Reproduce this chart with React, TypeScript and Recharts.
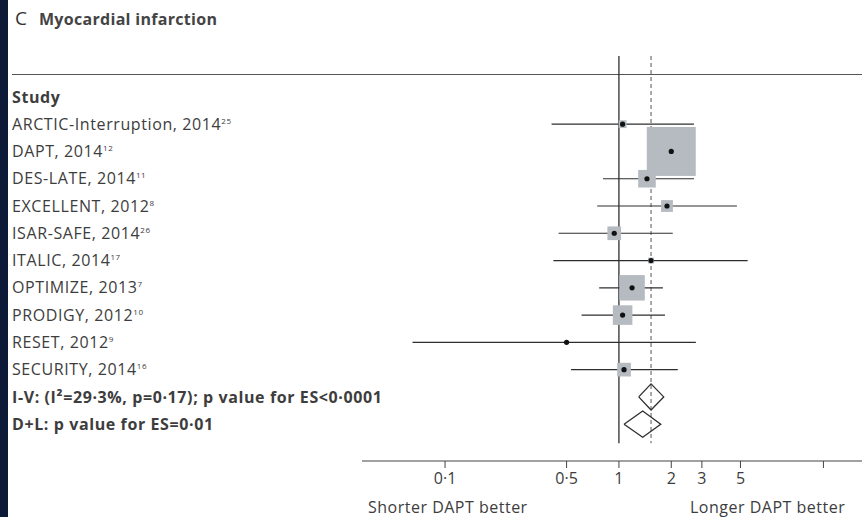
import { ScatterChart, Scatter, XAxis, YAxis, ReferenceLine, ErrorBar } from "recharts";

// Forest plot: myocardial infarction, longer vs shorter DAPT
const studies = [
  "ARCTIC-Interruption, 2014",
  "DAPT, 2014",
  "DES-LATE, 2014",
  "EXCELLENT, 2012",
  "ISAR-SAFE, 2014",
  "ITALIC, 2014",
  "OPTIMIZE, 2013",
  "PRODIGY, 2012",
  "RESET, 2012",
  "SECURITY, 2014",
];
const refs = ["25", "12", "11", "8", "26", "17", "7", "10", "9", "16"];
const estimates = [1.05, 2.0, 1.45, 1.89, 0.94, 1.53, 1.19, 1.05, 0.5, 1.07];
const lower = [0.41, 1.57, 0.81, 0.75, 0.45, 0.42, 0.77, 0.61, 0.065, 0.53];
const upper = [2.7, 2.49, 2.7, 4.77, 2.04, 5.5, 1.79, 1.84, 2.77, 2.18];
const weights = [1.4, 55.0, 7.1, 3.2, 4.3, 0.8, 14.9, 8.8, 0.2, 4.3];

const pooledLabels = [
  "I-V: (I²=29·3%, p=0·17); p value for ES<0·0001",
  "D+L: p value for ES=0·01",
];
const pooledLower = [1.3, 1.07];
const pooledEst = [1.53, 1.37];
const pooledUpper = [1.81, 1.74];

const xTicks = [0.1, 0.5, 1, 2, 3, 5, 15];
const xTickLabels = ["0·1", "0·5", "1", "2", "3", "5", ""];

const TEXT = "#3d3d3d";
const LINE = "#2e2e2e";
const BOX_SCALE = 6.6;
const DIAMOND_H = 0.48;

const studyData = studies.map((s, i) => ({
  x: estimates[i],
  y: i,
  w: weights[i],
  err: [estimates[i] - lower[i], upper[i] - estimates[i]],
}));

const diamonds = pooledEst.map((est, k) => {
  const y = studies.length + k;
  return [
    { x: pooledLower[k], y },
    { x: est, y: y - DIAMOND_H },
    { x: pooledUpper[k], y },
    { x: est, y: y + DIAMOND_H },
    { x: pooledLower[k], y },
  ];
});

const rowTicks = [-1, ...studies.map((_, i) => i), ...pooledLabels.map((_, k) => studies.length + k)];

function RowLabel(props: any) {
  const { y, payload } = props;
  const i = payload.value;
  const common = {
    x: 12,
    y,
    dy: "0.35em",
    fill: TEXT,
    fontSize: 16,
    letterSpacing: 0.6,
    textAnchor: "start" as const,
  };
  if (i === -1) {
    return <text {...common} fontWeight={700}>Study</text>;
  }
  if (i >= studies.length) {
    return <text {...common} fontWeight={700}>{pooledLabels[i - studies.length]}</text>;
  }
  return (
    <text {...common}>
      <tspan>{studies[i]}</tspan>
      <tspan dy={-6} fontSize={8}>{refs[i]}</tspan>
    </text>
  );
}

const BoxShape = (p: any) => {
  const s = BOX_SCALE * Math.sqrt(p.payload.w);
  return <rect x={p.cx - s / 2} y={p.cy - s / 2} width={s} height={s} fill="#b5bbc1" />;
};

const DotShape = (p: any) => <circle cx={p.cx} cy={p.cy} r={2.6} fill="#111" />;

const NoShape = () => <g />;

export default function App() {
  return (
    <div
      style={{
        position: "absolute",
        left: 0,
        top: 0,
        width: 862,
        height: 517,
        background: "#fff",
        fontFamily: "'Open Sans', sans-serif",
        overflow: "hidden",
      }}
    >
      {/* dark page edge */}
      <div style={{ position: "absolute", left: 0, top: 0, width: 8, height: 517, background: "#0c1a38" }} />

      <div style={{ position: "absolute", left: 15, top: 5, color: "#333", display: "flex", alignItems: "baseline", gap: 12 }}>
        <span style={{ fontSize: 19 }}>C</span>
        <span style={{ fontSize: 16, letterSpacing: 0.3, fontWeight: 700, color: "#444" }}>Myocardial infarction</span>
      </div>

      <div style={{ position: "absolute", left: 12, top: 74, width: 850, borderTop: "1.5px solid #555" }} />

      <ScatterChart width={862} height={517} margin={{ top: 56, right: 0, bottom: 26, left: 12 }}>
        <XAxis
          type="number"
          dataKey="x"
          scale="log"
          domain={[0.0333, 25]}
          allowDataOverflow
          ticks={xTicks}
          interval={0}
          tickFormatter={(v: number) => xTickLabels[xTicks.indexOf(v)] ?? ""}
          tick={{ fill: TEXT, fontSize: 16 }}
          tickSize={7}
          tickMargin={5}
          height={30}
          axisLine={{ stroke: "#444" }}
          tickLine={{ stroke: "#444" }}
        />
        <YAxis
          type="number"
          dataKey="y"
          domain={[-2.5, 12.35]}
          reversed
          allowDataOverflow
          ticks={rowTicks}
          interval={0}
          width={350}
          axisLine={false}
          tickLine={false}
          tick={<RowLabel />}
        />
        <ReferenceLine
          segment={[{ x: 1, y: -2.5 }, { x: 1, y: 11.7 }]}
          stroke={LINE}
          strokeWidth={1.3}
        />
        <ReferenceLine
          segment={[{ x: pooledEst[0], y: -2.5 }, { x: pooledEst[0], y: 11.7 }]}
          stroke="#555"
          strokeDasharray="4 3"
        />
        <Scatter data={studyData} shape={BoxShape} isAnimationActive={false} />
        <Scatter data={studyData} shape={DotShape} isAnimationActive={false}>
          <ErrorBar dataKey="err" direction="x" width={0} stroke={LINE} strokeWidth={1.2} />
        </Scatter>
        {diamonds.map((d, k) => (
          <Scatter
            key={k}
            data={d}
            shape={NoShape}
            line={{ stroke: LINE, strokeWidth: 1.3 }}
            isAnimationActive={false}
          />
        ))}
      </ScatterChart>

      <div style={{ position: "absolute", left: 368, top: 496, fontSize: 16, letterSpacing: 0.5, color: TEXT }}>Shorter DAPT better</div>
      <div style={{ position: "absolute", left: 690, top: 496, fontSize: 16, letterSpacing: 0.5, color: TEXT }}>Longer DAPT better</div>
    </div>
  );
}
